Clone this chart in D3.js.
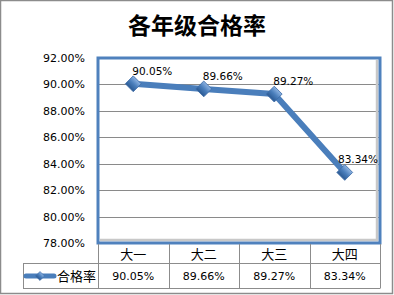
<!DOCTYPE html>
<html>
<head>
<meta charset="utf-8">
<script src="https://cdn.jsdelivr.net/npm/d3@7"></script>
<style>
  body { margin: 0; background: #fff; }
  text { font-family: "DejaVu Sans", Verdana, sans-serif; }
  .cjk { font-family: "Noto Sans CJK SC", sans-serif; }
</style>
</head>
<body>
<div id="chart"></div>
<script>
var categories = ["大一", "大二", "大三", "大四"];
var rates = [0.9005, 0.8966, 0.8927, 0.8334];
var yTicks = [0.78, 0.80, 0.82, 0.84, 0.86, 0.88, 0.90, 0.92];
var seriesName = "合格率";
var chartTitle = "各年级合格率";

var W = 394, H = 295;
// note: "top" is a reserved window property, so plot edges get a prefix
var plotL = 98, plotR = 380, plotT = 58, plotB = 243;
var rowMid = 263, rowEnd = 288, legendLeft = 23;

var svg = d3.select("#chart").append("svg")
    .attr("width", W)
    .attr("height", H);

var defs = svg.append("defs");
var grad = defs.append("linearGradient")
    .attr("id", "dia").attr("x1", 0).attr("y1", 0).attr("x2", 0).attr("y2", 1);
grad.append("stop").attr("offset", "0%").attr("stop-color", "#8db3e2");
grad.append("stop").attr("offset", "50%").attr("stop-color", "#4a7ebb");
grad.append("stop").attr("offset", "100%").attr("stop-color", "#2b5a94");

// outer frame
svg.append("rect")
    .attr("x", 0.5).attr("y", 0.5)
    .attr("width", W - 2).attr("height", H - 2)
    .attr("fill", "#fff")
    .attr("stroke", "#8c8c8c")
    .attr("stroke-width", 1.5);

svg.append("text")
    .attr("class", "cjk")
    .attr("x", 197).attr("y", 34)
    .attr("text-anchor", "middle")
    .attr("font-size", 23)
    .attr("font-weight", "bold")
    .attr("fill", "#000")
    .text(chartTitle);

var x = d3.scaleBand().domain(categories).range([plotL, plotR]);
var y = d3.scaleLinear().domain([0.78, 0.92]).range([plotB, plotT]);

// grid lines
svg.append("g").selectAll("line")
    .data(yTicks.slice(1, -1))
    .enter().append("line")
    .attr("x1", plotL).attr("x2", plotR)
    .attr("y1", function(d) { return Math.round(y(d)) + 0.5; })
    .attr("y2", function(d) { return Math.round(y(d)) + 0.5; })
    .attr("stroke", "#8a8a8a")
    .attr("stroke-width", 1);

// y labels
svg.append("g").selectAll("text")
    .data(yTicks)
    .enter().append("text")
    .attr("x", 85)
    .attr("y", function(d) { return y(d) + 4; })
    .attr("text-anchor", "end")
    .attr("font-size", 11)
    .attr("fill", "#000")
    .text(function(d) { return d3.format(".2%")(d); });

// plot frame with inner shade
svg.append("line")
    .attr("x1", plotR - 3).attr("x2", plotR - 3)
    .attr("y1", plotT + 2).attr("y2", plotB - 2)
    .attr("stroke", "#c8c8c8").attr("stroke-width", 2.5);
svg.append("line")
    .attr("x1", plotL + 2).attr("x2", plotR - 2)
    .attr("y1", plotB - 3).attr("y2", plotB - 3)
    .attr("stroke", "#c8c8c8").attr("stroke-width", 2.5);
svg.append("rect")
    .attr("x", plotL).attr("y", plotT)
    .attr("width", plotR - plotL).attr("height", plotB - plotT)
    .attr("fill", "none")
    .attr("stroke", "#4f81bd")
    .attr("stroke-width", 3);

// data line
var line = d3.line()
    .x(function(d, i) { return x(categories[i]) + x.bandwidth() / 2; })
    .y(function(d) { return y(d); });

svg.append("path")
    .datum(rates)
    .attr("d", line)
    .attr("fill", "none")
    .attr("stroke", "#4a7ebb")
    .attr("stroke-width", 6)
    .attr("stroke-linejoin", "round");

var diamond = d3.symbol().type(d3.symbolSquare).size(125);
svg.append("g").selectAll("path")
    .data(rates)
    .enter().append("path")
    .attr("d", diamond)
    .attr("transform", function(d, i) {
        return "translate(" + (x(categories[i]) + x.bandwidth() / 2) + "," + y(d) + ") rotate(45)";
    })
    .attr("fill", "url(#dia)")
    .attr("stroke", "#3d6ca6")
    .attr("stroke-width", 0.8);

// data labels, pushed left if they would run past the frame
svg.append("g").selectAll("text")
    .data(rates)
    .enter().append("text")
    .attr("y", function(d) { return y(d) - 9; })
    .attr("font-size", 10.5)
    .attr("fill", "#000")
    .text(function(d) { return d3.format(".2%")(d); })
    .attr("x", function(d, i) {
        var px = x(categories[i]) + x.bandwidth() / 2;
        var w = this.getComputedTextLength();
        return Math.min(px - 1, plotR - 2 - w);
    });

// data table
var tbl = svg.append("g").attr("stroke", "#8c8c8c").attr("stroke-width", 1);
x.domain().concat([null]).forEach(function(c) {
    var xx = (c === null ? plotR : x(c));
    tbl.append("line")
        .attr("x1", Math.round(xx) + 0.5).attr("x2", Math.round(xx) + 0.5)
        .attr("y1", plotB + 1).attr("y2", rowEnd);
});
tbl.append("line")
    .attr("x1", legendLeft + 0.5).attr("x2", legendLeft + 0.5)
    .attr("y1", rowMid).attr("y2", rowEnd);
[rowMid, rowEnd].forEach(function(yy) {
    tbl.append("line")
        .attr("x1", legendLeft).attr("x2", plotR + 0.5)
        .attr("y1", yy + 0.5).attr("y2", yy + 0.5);
});

svg.append("g").selectAll("text")
    .data(categories)
    .enter().append("text")
    .attr("class", "cjk")
    .attr("x", function(d) { return x(d) + x.bandwidth() / 2; })
    .attr("y", 259)
    .attr("text-anchor", "middle")
    .attr("font-size", 13)
    .attr("fill", "#000")
    .text(function(d) { return d; });

svg.append("g").selectAll("text")
    .data(rates)
    .enter().append("text")
    .attr("x", function(d, i) { return x(categories[i]) + x.bandwidth() / 2; })
    .attr("y", 280)
    .attr("text-anchor", "middle")
    .attr("font-size", 11)
    .attr("fill", "#000")
    .text(function(d) { return d3.format(".2%")(d); });

// legend key
svg.append("line")
    .attr("x1", 26).attr("x2", 54)
    .attr("y1", 276).attr("y2", 276)
    .attr("stroke", "#4a7ebb").attr("stroke-width", 5)
    .attr("stroke-linecap", "round");
svg.append("path")
    .attr("d", d3.symbol().type(d3.symbolSquare).size(40))
    .attr("transform", "translate(40,276) rotate(45)")
    .attr("fill", "url(#dia)")
    .attr("stroke", "#3d6ca6")
    .attr("stroke-width", 0.6);
svg.append("text")
    .attr("class", "cjk")
    .attr("x", 57).attr("y", 281)
    .attr("font-size", 13)
    .attr("fill", "#000")
    .text(seriesName);
</script>
</body>
</html>
